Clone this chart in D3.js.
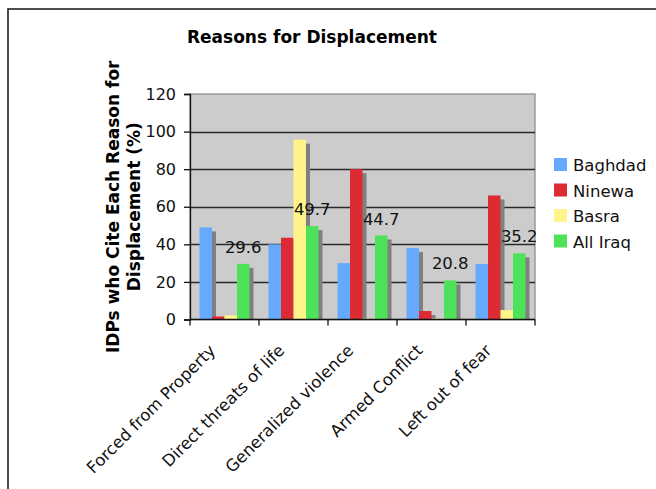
<!DOCTYPE html>
<html>
<head>
<meta charset="utf-8">
<script src="https://cdn.jsdelivr.net/npm/d3@7"></script>
<style>
  html, body { margin: 0; padding: 0; background: #ffffff; }
  svg { display: block; font-family: "DejaVu Sans", Verdana, sans-serif; }
</style>
</head>
<body>
<svg id="chart" width="656" height="489"></svg>
<script>
// Reasons for displacement, share of IDPs citing each reason (%)
const categories = ["Forced from Property", "Direct threats of life", "Generalized violence", "Armed Conflict", "Left out of fear"];
const seriesNames = ["Baghdad", "Ninewa", "Basra", "All Iraq"];
const baghdad = [49, 40, 30, 38, 29.5];
const ninewa  = [1.6, 43.5, 80, 4.5, 66];
const basra   = [2.2, 95.7, 0.5, 0.5, 5];
const allIraq = [29.6, 49.7, 44.7, 20.8, 35.2];
const yTicks  = [0, 20, 40, 60, 80, 100, 120];
const seriesColors = ["#66aaff", "#dd2b33", "#fff38a", "#4ee25a"];

const seriesValues = [baghdad, ninewa, basra, allIraq];
const rows = categories.map((c, i) => ({
  category: c,
  values: seriesNames.map((s, j) => ({ series: s, value: seriesValues[j][i] }))
}));

const svg = d3.select("#chart");

// outer chart frame
svg.append("rect")
  .attr("x", 8).attr("y", 9).attr("width", 700).attr("height", 600)
  .attr("fill", "none").attr("stroke", "#222").attr("stroke-width", 1.6);

const plot = { left: 190, right: 535, top: 94, bottom: 319.5 };

const x0 = d3.scaleBand().domain(categories).range([plot.left, plot.right]).padding(0);
const x1 = d3.scaleBand().domain(seriesNames).range([0, x0.bandwidth()])
  .paddingInner(0).paddingOuter(0.76);
const y = d3.scaleLinear().domain([0, 120]).range([plot.bottom, plot.top]);
const color = d3.scaleOrdinal().domain(seriesNames).range(seriesColors);

// plot background
svg.append("rect")
  .attr("x", plot.left).attr("y", plot.top)
  .attr("width", plot.right - plot.left).attr("height", plot.bottom - plot.top)
  .attr("fill", "#cccccc").attr("stroke", "#9a9a9a").attr("stroke-width", 1.5);

// horizontal gridlines
svg.append("g")
  .selectAll("line")
  .data(yTicks.filter(t => t > 0 && t < 120))
  .join("line")
  .attr("x1", plot.left).attr("x2", plot.right)
  .attr("y1", d => Math.round(y(d)) + 0.5).attr("y2", d => Math.round(y(d)) + 0.5)
  .attr("stroke", "#2a2a2a").attr("stroke-width", 1.3);

// bars with drop shadows
const groups = svg.append("g")
  .selectAll("g")
  .data(rows)
  .join("g")
  .attr("transform", d => `translate(${x0(d.category)},0)`);

const shadowOff = 4;
groups.selectAll("rect.shadow")
  .data(d => d.values)
  .join("rect")
  .attr("class", "shadow")
  .attr("x", d => x1(d.series) + shadowOff)
  .attr("y", d => Math.min(y(d.value) + shadowOff, plot.bottom))
  .attr("width", x1.bandwidth())
  .attr("height", d => Math.max(0, plot.bottom - y(d.value) - shadowOff))
  .attr("fill", "#808080");

groups.selectAll("rect.bar")
  .data(d => d.values)
  .join("rect")
  .attr("class", "bar")
  .attr("x", d => x1(d.series))
  .attr("y", d => y(d.value))
  .attr("width", x1.bandwidth())
  .attr("height", d => plot.bottom - y(d.value))
  .attr("fill", d => color(d.series));

// value labels for All Iraq
groups.append("text")
  .attr("x", x1("All Iraq") + x1.bandwidth() / 2)
  .attr("y", d => y(d.values[3].value) - 11)
  .attr("text-anchor", "middle")
  .attr("font-size", 16.5)
  .attr("fill", "#111")
  .text(d => d.values[3].value.toFixed(1));

// y axis
const yAxis = svg.append("g")
  .attr("transform", `translate(${plot.left},0)`)
  .call(d3.axisLeft(y).tickValues(yTicks).tickSize(6).tickPadding(8).tickFormat(d3.format("d")));
yAxis.selectAll("text").attr("font-size", 16).attr("fill", "#111").attr("font-family", "DejaVu Sans, sans-serif");
yAxis.selectAll("line, path").attr("stroke", "#111").attr("stroke-width", 1.3);

// x axis: baseline with ticks at category boundaries
const xAxisG = svg.append("g");
xAxisG.append("line")
  .attr("x1", plot.left).attr("x2", plot.right)
  .attr("y1", plot.bottom).attr("y2", plot.bottom)
  .attr("stroke", "#111").attr("stroke-width", 1.5);
const boundaries = categories.map(c => x0(c)).concat([x0(categories[categories.length - 1]) + x0.bandwidth()]);
xAxisG.selectAll("line.tick")
  .data(boundaries)
  .join("line")
  .attr("class", "tick")
  .attr("x1", d => d).attr("x2", d => d)
  .attr("y1", plot.bottom).attr("y2", plot.bottom + 6)
  .attr("stroke", "#111").attr("stroke-width", 1.3);

xAxisG.selectAll("text")
  .data(categories)
  .join("text")
  .attr("transform", d => `translate(${x0(d) + x0.bandwidth() / 2 - 8},${plot.bottom + 32}) rotate(-45)`)
  .attr("text-anchor", "end")
  .attr("font-size", 16.5)
  .attr("fill", "#111")
  .text(d => d);

// title
svg.append("text")
  .attr("x", 312).attr("y", 43)
  .attr("text-anchor", "middle")
  .attr("font-size", 17)
  .attr("font-weight", "bold")
  .attr("fill", "#000")
  .text("Reasons for Displacement");

// y axis title, two lines
const yTitle = svg.append("text")
  .attr("transform", `translate(119,${(plot.top + plot.bottom) / 2}) rotate(-90)`)
  .attr("text-anchor", "middle")
  .attr("font-size", 17)
  .attr("font-weight", "bold")
  .attr("fill", "#000");
yTitle.append("tspan").attr("x", 0).attr("dy", 0).text("IDPs who Cite Each Reason for");
yTitle.append("tspan").attr("x", 0).attr("dy", 21).text("Displacement (%)");

// legend
const legend = svg.append("g")
  .selectAll("g")
  .data(seriesNames)
  .join("g")
  .attr("transform", (d, i) => `translate(554,${158 + i * 25.5})`);
legend.append("rect")
  .attr("width", 13).attr("height", 13)
  .attr("fill", d => color(d));
legend.append("text")
  .attr("x", 19).attr("y", 13)
  .attr("font-size", 16.5)
  .attr("fill", "#111")
  .text(d => d);
</script>
</body>
</html>
